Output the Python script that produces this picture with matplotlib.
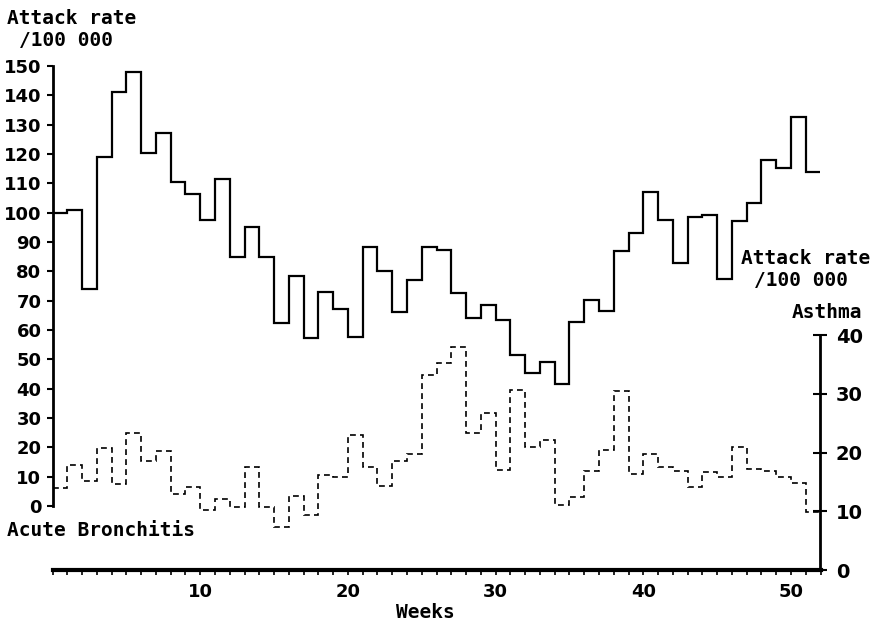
import numpy as np
import matplotlib
matplotlib.use("Agg")
import matplotlib.pyplot as plt

# weekly attack rates /100 000
weeks = np.arange(0, 53)
bronchitis = [100, 101, 74, 119, 141, 148, 120.5, 127, 110.5, 106.3,
              97.6, 111.5, 85, 95.2, 85, 62.5, 78.4, 57.3, 73, 67.3,
              57.7, 88.2, 80, 66.1, 77, 88.2, 87.3, 72.6, 64.2, 68.4,
              63.5, 51.5, 45.2, 49.1, 41.5, 62.7, 70.2, 66.5, 86.8, 93.1,
              107, 97.4, 83, 98.6, 99.2, 77.4, 97.3, 103.3, 118, 115.2,
              132.7, 114]
asthma = [14.0, 17.9, 15.1, 20.7, 14.6, 23.4, 18.6, 20.2, 12.9, 14.2,
          10.2, 12.1, 10.7, 17.6, 10.7, 7.3, 12.6, 9.3, 16.2, 15.8,
          22.9, 17.5, 14.3, 18.6, 19.7, 33.2, 35.2, 38.0, 23.3, 26.7,
          17.0, 30.6, 21.0, 22.2, 11.0, 12.5, 16.9, 20.5, 30.5, 16.4,
          19.8, 17.6, 16.8, 14.2, 16.7, 15.9, 21.0, 17.2, 16.8, 15.8,
          14.8, 9.9]

left_ticks = list(range(0, 151, 10))
right_ticks = [0, 10, 20, 30, 40]
week_ticks = [10, 20, 30, 40, 50]

plt.rcParams['font.family'] = 'DejaVu Sans'
plt.rcParams['font.weight'] = 'bold'

W, H = 874, 628
fig = plt.figure(figsize=(W / 100, H / 100), dpi=100)
ax1 = fig.add_axes([52.5 / W, 1 - 570 / H, 768 / W, 504 / H])
ax2 = ax1.twinx()

ax1.stairs(bronchitis, weeks, baseline=None, color='black', linewidth=1.6)
ax2.stairs(asthma, weeks, baseline=None, color='black', linewidth=1.2,
           linestyle=(0, (3.5, 2.5)))

ax1.set_xlim(0, 52)
ax1.set_ylim(-21.82, 150)
ax2.set_ylim(0, 85.79)

for s in ['top', 'right']:
    ax1.spines[s].set_visible(False)
for s in ['top', 'left', 'bottom']:
    ax2.spines[s].set_visible(False)
ax1.spines['left'].set_bounds(0, 150)
ax1.spines['left'].set_linewidth(2)
ax1.spines['bottom'].set_bounds(0, 52)
ax1.spines['bottom'].set_linewidth(3)
ax2.spines['right'].set_bounds(0, 40)
ax2.spines['right'].set_linewidth(2)

ax1.set_yticks(left_ticks)
ax1.set_xticks(week_ticks)
ax1.set_xticks(weeks, minor=True)
ax2.set_yticks(right_ticks)

ax1.tick_params(axis='y', direction='out', length=4, width=1.5, pad=4, labelsize=13)
ax1.tick_params(axis='x', which='both', direction='out', length=3.5, width=1.2, pad=6, labelsize=13)
ax2.tick_params(axis='y', direction='inout', length=10, width=1.5, pad=6, labelsize=14)


def label(x, y, s, size=14):
    fig.text(x / W, 1 - y / H, s, ha='center', va='center', fontsize=size,
             family='DejaVu Sans Mono', fontweight='bold')


label(72, 19, "Attack rate")
label(66, 41, "/100 000")
label(101, 530, "Acute Bronchitis")
label(425, 612, "Weeks")
label(806, 258, "Attack rate")
label(801, 281, "/100 000")
label(827, 313, "Asthma")

fig.savefig('out.png', dpi=100)
